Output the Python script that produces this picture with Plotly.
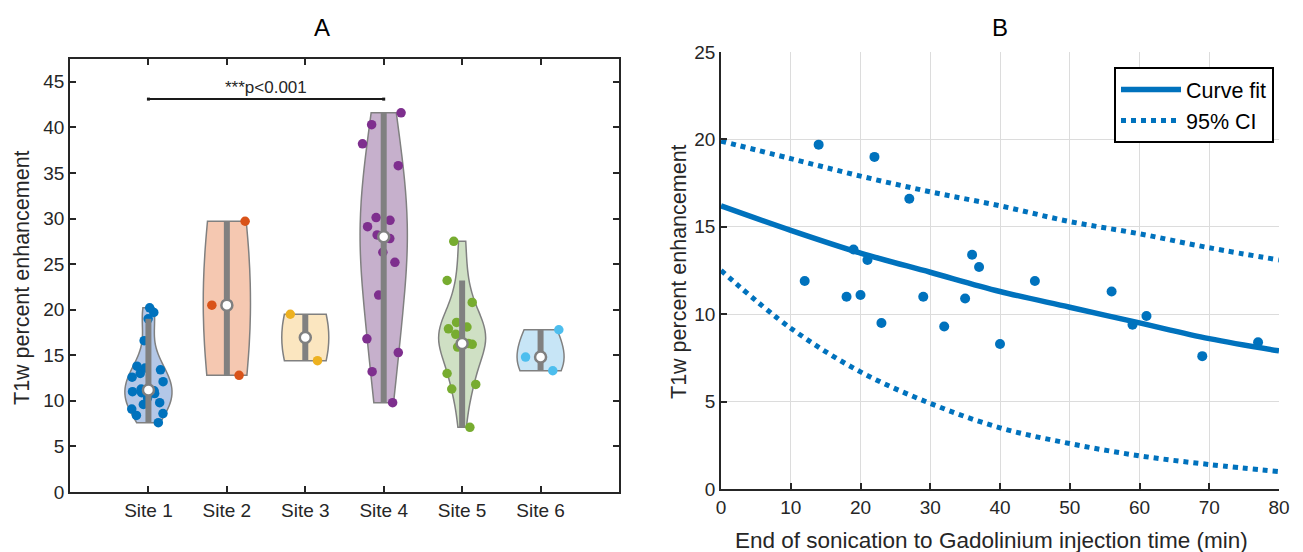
import numpy as np
import plotly.graph_objects as go

# ---------------- Panel A data ----------------
sites = ["Site 1", "Site 2", "Site 3", "Site 4", "Site 5", "Site 6"]
site1 = [20.2, 19.7, 19.0, 16.6, 13.8, 13.6, 13.4, 13.0, 12.6, 12.1, 11.3,
         11.1, 11.0, 10.9, 10.8, 10.3, 9.8, 9.6, 9.1, 8.6, 8.4, 7.6]
site2 = [29.7, 20.5, 12.8]
site3 = [19.5, 14.4]
site4 = [41.6, 40.3, 38.2, 35.8, 30.1, 29.8, 29.1, 28.2, 27.8, 26.3, 25.2,
         21.6, 16.8, 15.3, 13.2, 9.8]
site5 = [27.5, 23.2, 20.8, 18.6, 18.1, 17.9, 17.3, 16.3, 16.2, 16.2, 15.9,
         13.0, 11.8, 11.3, 7.1]
site6 = [17.8, 14.8, 13.3]
site_values = [site1, site2, site3, site4, site5, site6]
site_colors = ["#0072BD", "#D95319", "#EDB120", "#7E2F8E", "#77AC30", "#4DBEEE"]
site_fills = ["#b3c7e7", "#f5c8b1", "#fbe6c0", "#c6b0cc", "#cfe0c4", "#c7e5f6"]
sig_label = "***p<0.001"
sig_y = 43.1

# ---------------- Panel B data ----------------
time_min = [12, 14, 18, 19, 20, 21, 22, 23, 27, 29, 32, 35, 36, 37, 40, 45,
            56, 59, 61, 69, 77]
enh = [11.9, 19.7, 11.0, 13.7, 11.1, 13.1, 19.0, 9.5, 16.6, 11.0, 9.3, 10.9,
       13.4, 12.7, 8.3, 11.9, 11.3, 9.4, 9.9, 7.6, 8.4]
curve_x = [0, 10, 20, 30, 40, 50, 60, 70, 80]
fit_y = [16.2, 14.8, 13.5, 12.4, 11.3, 10.4, 9.5, 8.6, 7.9]
ci_hi = [19.9, 18.9, 17.9, 17.0, 16.2, 15.3, 14.6, 13.8, 13.1]
ci_lo = [12.5, 9.2, 6.7, 4.9, 3.5, 2.6, 1.9, 1.4, 1.0]

FONT = "Liberation Sans, Arial, Helvetica, sans-serif"
AX = "#262626"
GRAY = "#808080"

W, H = 1303, 552
OFF = 8  # page offset of the plot div


def px(x):
    return (x - OFF) / W


def py(y):
    return 1 - (y - OFF) / H


fig = go.Figure()


def matlab_bw(v):
    v = np.asarray(v, float)
    sig = np.median(np.abs(v - np.median(v))) / 0.6745
    return sig * (4.0 / (3.0 * len(v))) ** 0.2


for name, vals, col, fill in zip(sites, site_values, site_colors, site_fills):
    fig.add_trace(go.Violin(
        x=[name] * len(vals), y=vals, xaxis="x", yaxis="y",
        spanmode="hard", scalemode="width", width=0.6,
        bandwidth=1.2 * matlab_bw(vals),
        fillcolor=fill, line=dict(color=GRAY, width=1.5),
        points="all", jitter=1.0, pointpos=0,
        marker=dict(color=col, size=9.5, line=dict(width=0)),
        box_visible=False, meanline_visible=False, showlegend=False,
    ))

for name, vals in zip(sites, site_values):
    v = np.asarray(vals, float)
    q1, med, q3 = np.percentile(v, [25, 50, 75], method="hazen")
    iqr = q3 - q1
    lo = v[v >= q1 - 1.5 * iqr].min()
    hi = v[v <= q3 + 1.5 * iqr].max()
    fig.add_trace(go.Scatter(x=[name, name], y=[lo, hi], mode="lines",
                             line=dict(color=GRAY, width=6), xaxis="x", yaxis="y",
                             showlegend=False, hoverinfo="skip"))
    fig.add_trace(go.Scatter(x=[name], y=[med], mode="markers",
                             marker=dict(color="white", size=11,
                                         line=dict(color=GRAY, width=2.5)),
                             xaxis="x", yaxis="y", showlegend=False))

fig.add_trace(go.Scatter(x=[sites[0], sites[3]], y=[sig_y, sig_y], mode="lines+markers",
                         line=dict(color="#1a1a1a", width=2),
                         marker=dict(symbol="square", size=3, color="#1a1a1a"),
                         xaxis="x", yaxis="y", showlegend=False))

# ---------------- Panel B traces ----------------
BLUE = "#0072BD"
fig.add_trace(go.Scatter(x=time_min, y=enh, mode="markers",
                         marker=dict(color=BLUE, size=10), xaxis="x2", yaxis="y2",
                         showlegend=False))
fig.add_trace(go.Scatter(x=curve_x, y=fit_y, mode="lines", name="Curve fit",
                         line=dict(color=BLUE, width=5.5, shape="spline"),
                         xaxis="x2", yaxis="y2"))
fig.add_trace(go.Scatter(x=curve_x, y=ci_hi, mode="lines", name="95% CI",
                         line=dict(color=BLUE, width=5, dash="dot", shape="spline"),
                         xaxis="x2", yaxis="y2"))
fig.add_trace(go.Scatter(x=curve_x, y=ci_lo, mode="lines", name="95% CI",
                         line=dict(color=BLUE, width=5, dash="dot", shape="spline"),
                         xaxis="x2", yaxis="y2", showlegend=False))

tickfont = dict(family=FONT, size=19, color=AX)
common = dict(showline=True, linecolor=AX, linewidth=1.5, ticks="inside",
              ticklen=6, tickcolor=AX, tickwidth=1.5, zeroline=False,
              tickfont=tickfont, automargin=False)

fig.update_layout(
    width=W, height=H,
    margin=dict(l=0, r=0, t=0, b=0, pad=0, autoexpand=False),
    paper_bgcolor="white", plot_bgcolor="white",
    violinmode="overlay",
    font=dict(family=FONT, color=AX),
    xaxis=dict(domain=[px(70), px(619)], type="category", range=[-1, 6],
               mirror="ticks", showgrid=False, anchor="y", **common),
    yaxis=dict(domain=[py(492), py(59)], range=[0, 47.5],
               tickvals=list(range(0, 50, 5)), mirror="ticks",
               showgrid=False, anchor="x", **common),
    xaxis2=dict(domain=[px(721), px(1279)], range=[0, 80], dtick=10,
                showgrid=True, gridcolor="#dcdcdc", gridwidth=1,
                anchor="y2", **common),
    yaxis2=dict(domain=[py(489), py(52)], range=[0, 25], dtick=5,
                showgrid=True, gridcolor="#dcdcdc", gridwidth=1,
                anchor="x2", **common),
    legend=dict(x=px(1274), y=py(67), xanchor="right", yanchor="top",
                bgcolor="white", bordercolor="#000000", borderwidth=2,
                font=dict(family=FONT, size=21.5, color="#000000"),
                tracegroupgap=0, itemwidth=60),
    showlegend=True,
)

annos = [
    dict(text="A", x=px(322), y=py(27)),
    dict(text="B", x=px(1000), y=py(27)),
    dict(text="T1w percent enhancement", x=px(22), y=py(278), textangle=-90),
    dict(text="T1w percent enhancement", x=px(679), y=py(271), textangle=-90),
    dict(text="End of sonication to Gadolinium injection time (min)",
         x=px(992), y=py(540)),
]
for a, sz, col in zip(annos, [24, 24, 21.5, 21.5, 22.5],
                      ["#000000", "#000000", AX, AX, AX]):
    a.update(xref="paper", yref="paper", xanchor="center", yanchor="middle",
             showarrow=False, font=dict(family=FONT, size=sz, color=col))
annos.append(dict(text=sig_label, x=1.5, y=sig_y, xref="x", yref="y",
                  xanchor="center", yanchor="bottom", yshift=0, showarrow=False,
                  font=dict(family=FONT, size=17, color=AX)))
fig.update_layout(annotations=annos)

fig.write_html("out.html")
